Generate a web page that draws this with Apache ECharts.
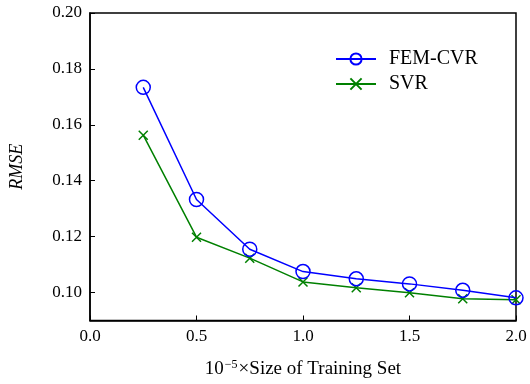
<!DOCTYPE html>
<html><head><meta charset="utf-8">
<script src="https://cdn.jsdelivr.net/npm/echarts@6/dist/echarts.min.js"></script>
<style>html,body{margin:0;padding:0;background:#fff}#c{width:530px;height:384px}</style>
</head><body><div id="c"></div>
<script>
const xValues = [0.25, 0.5, 0.75, 1.0, 1.25, 1.5, 1.75, 2.0];
const femCvr = [0.1734, 0.1333, 0.1155, 0.1075, 0.1049, 0.1031, 0.1008, 0.0981];
const svr = [0.1563, 0.1198, 0.1123, 0.1038, 0.1017, 0.0999, 0.0978, 0.0974];
const yTicks = [0.10, 0.12, 0.14, 0.16, 0.18, 0.20];
const xTicks = [0.0, 0.5, 1.0, 1.5, 2.0];

const serif = '"Liberation Serif","DejaVu Serif",serif';
const chart = echarts.init(document.getElementById('c'));
const xSym = 'path://M0,0L10,10M10,0L0,10';
chart.setOption({
  animation: false,
  grid: { left: 90, right: 14, top: 13, bottom: 61, show: true, borderColor: '#000', borderWidth: 1.5, backgroundColor: 'transparent' },
  legend: {
    left: 330, top: 44, orient: 'vertical', itemWidth: 40, itemHeight: 14, itemGap: 5,
    textStyle: { fontFamily: serif, fontSize: 20, color: '#000', padding: [0, 0, 0, 8] },
    data: ['FEM-CVR', 'SVR']
  },
  xAxis: {
    type: 'value', min: 0, max: 2.0,
    axisLine: { lineStyle: { color: '#000', width: 1.5 } },
    axisTick: { inside: true, length: 5, customValues: xTicks, lineStyle: { color: '#000' } },
    axisLabel: { customValues: xTicks, formatter: v => v.toFixed(1), fontFamily: serif, fontSize: 17, color: '#000', margin: 8 },
    splitLine: { show: false },
    name: '{n|10}{s|−5}{n|×Size of Training Set}', nameLocation: 'middle', nameGap: 38,
    nameTextStyle: { rich: { n: { fontFamily: serif, fontSize: 19, color: '#000' }, s: { fontFamily: serif, fontSize: 12, color: '#000', verticalAlign: 'top', padding: [0, 1, 10, 1] } } }
  },
  yAxis: {
    type: 'value', min: 0.09, max: 0.20,
    axisLine: { lineStyle: { color: '#000', width: 1.5 } },
    axisTick: { inside: true, length: 5, customValues: yTicks, lineStyle: { color: '#000' } },
    axisLabel: { customValues: yTicks, formatter: v => v.toFixed(2), fontFamily: serif, fontSize: 17, color: '#000', margin: 8 },
    splitLine: { show: false },
    name: 'RMSE', nameLocation: 'middle', nameGap: 64, nameRotate: 90,
    nameTextStyle: { fontFamily: serif, fontSize: 18, fontStyle: 'italic', color: '#000' }
  },
  series: [
    {
      name: 'FEM-CVR', type: 'line', data: xValues.map((x, i) => [x, femCvr[i]]),
      symbol: 'circle', symbolSize: 14, showAllSymbol: true,
      lineStyle: { color: '#0000ff', width: 1.5 },
      itemStyle: { color: 'rgba(0,0,0,0)', borderColor: '#0000ff', borderWidth: 1.5 },
      z: 3
    },
    {
      name: 'SVR', type: 'line', data: xValues.map((x, i) => [x, svr[i]]),
      symbol: xSym, symbolSize: 9, showAllSymbol: true,
      lineStyle: { color: '#008000', width: 1.5 },
      itemStyle: { color: '#008000', borderColor: '#008000', borderWidth: 1.5 },
      z: 2
    }
  ]
});
</script></body></html>
